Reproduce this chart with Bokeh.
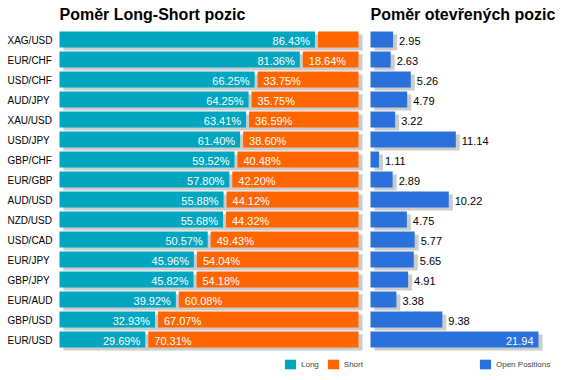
from bokeh.plotting import figure
from bokeh.models import ColumnDataSource, FactorRange, Range1d, Legend, LegendItem, Label
from bokeh.transform import dodge
from bokeh.core.properties import value
from bokeh.embed import file_html
from bokeh.resources import INLINE

# ---------------- data ----------------
pairs = ["XAG/USD", "EUR/CHF", "USD/CHF", "AUD/JPY", "XAU/USD", "USD/JPY", "GBP/CHF", "EUR/GBP",
         "AUD/USD", "NZD/USD", "USD/CAD", "EUR/JPY", "GBP/JPY", "EUR/AUD", "GBP/USD", "EUR/USD"]
long_pct = [86.43, 81.36, 66.25, 64.25, 63.41, 61.40, 59.52, 57.80,
            55.88, 55.68, 50.57, 45.96, 45.82, 39.92, 32.93, 29.69]
short_pct = [13.57, 18.64, 33.75, 35.75, 36.59, 38.60, 40.48, 42.20,
             44.12, 44.32, 49.43, 54.04, 54.18, 60.08, 67.07, 70.31]
open_positions = [2.95, 2.63, 5.26, 4.79, 3.22, 11.14, 1.11, 2.89,
                  10.22, 4.75, 5.77, 5.65, 4.91, 3.38, 9.38, 21.94]

title_left = "Poměr Long-Short pozic"
title_right = "Poměr otevřených pozic"
legend_labels = ["Long", "Short", "Open Positions"]

# ---------------- layout / style ----------------
W, H = 567, 378
L0, LW = 59, 299        # left chart: zero position and 100% length (px)
R0, RW = 370, 168       # right chart: zero position and max length (px)
SHX, SHY = 4, 3         # shadow offset (px)
GAP = 3                 # gap between long and short (px)
ROW = 20                # row pitch (px)
FONT_NAME = "Liberation Sans"
FONT = value(FONT_NAME)
C_LONG, C_SHORT, C_OPEN, C_SHADOW = "#00A6BF", "#FF6600", "#2A71DB", "#CCCCCC"

n = len(pairs)
lpx = LW / 100.0
rpx = RW / max(open_positions)

p = figure(width=W, height=H, output_backend="svg", toolbar_location=None,
           x_range=Range1d(-L0 / lpx, -L0 / lpx + W / lpx),
           y_range=FactorRange(factors=list(reversed(pairs)),
                               range_padding=(H / ROW - n) / 2, range_padding_units="absolute"),
           x_axis_location=None, y_axis_location=None,
           min_border=0, outline_line_color=None)
p.extra_x_ranges = {"pos": Range1d(-R0 / rpx, -R0 / rpx + W / rpx)}
p.xgrid.visible = False
p.ygrid.visible = False

total = [l + s for l, s in zip(long_pct, short_pct)]
src = ColumnDataSource(dict(
    pair=pairs,
    long=long_pct,
    long_r=[l - GAP / lpx for l in long_pct],
    total=total,
    sh_l=[SHX / lpx] * n,
    sh_r=[t + SHX / lpx for t in total],
    long_txt=["%.2f%%" % v for v in long_pct],
    short_txt=[("%.2f%%" % v) if v >= 15 else "" for v in short_pct],
    open=open_positions,
    osh_l=[SHX / rpx] * n,
    osh_r=[v + SHX / rpx for v in open_positions],
    out_txt=[("%.2f" % v) if v < 0.8 * max(open_positions) else "" for v in open_positions],
    in_txt=[("%.2f" % v) if v >= 0.8 * max(open_positions) else "" for v in open_positions],
))

ysh = dodge("pair", -SHY / ROW, range=p.y_range)

# left chart
p.hbar(y=ysh, left="sh_l", right="sh_r", height=0.8, source=src,
       fill_color=C_SHADOW, line_color=None)
r_long = p.hbar(y="pair", left=0, right="long_r", height=0.8, source=src,
                fill_color=C_LONG, line_color=None)
r_short = p.hbar(y="pair", left="long", right="total", height=0.8, source=src,
                 fill_color=C_SHORT, line_color=None)

# right chart
p.hbar(y=ysh, left="osh_l", right="osh_r", height=0.8, source=src,
       fill_color=C_SHADOW, line_color=None, x_range_name="pos")
r_open = p.hbar(y="pair", left=0, right="open", height=0.8, source=src,
                fill_color=C_OPEN, line_color=None, x_range_name="pos")

# labels
p.text(x=0, y="pair", text="pair", source=src, x_offset=-(L0 - 7), y_offset=1,
       text_align="left", text_baseline="middle", text_font=FONT,
       text_font_size="10px", text_color="#000000")
p.text(x="long", y="pair", text="long_txt", source=src, x_offset=-8, y_offset=1,
       text_align="right", text_baseline="middle", text_font=FONT,
       text_font_size="11px", text_color="#FFFFFF")
p.text(x="long", y="pair", text="short_txt", source=src, x_offset=6, y_offset=1,
       text_align="left", text_baseline="middle", text_font=FONT,
       text_font_size="11px", text_color="#FFFFFF")
p.text(x="open", y="pair", text="out_txt", source=src, x_offset=6, y_offset=1,
       text_align="left", text_baseline="middle", text_font=FONT,
       text_font_size="11px", text_color="#000000", x_range_name="pos")
p.text(x="open", y="pair", text="in_txt", source=src, x_offset=-5, y_offset=1,
       text_align="right", text_baseline="middle", text_font=FONT,
       text_font_size="11px", text_color="#FFFFFF", x_range_name="pos")

# titles
for txt, rng in [(title_left, "default"), (title_right, "pos")]:
    p.add_layout(Label(x=0, y=H - 14, y_units="screen", x_range_name=rng,
                       text=txt, text_font=FONT_NAME, text_font_size="16px",
                       text_font_style="bold", text_color="#000000",
                       text_baseline="alphabetic"))

# legends
def mk_legend(items, loc):
    return Legend(items=items, location=loc, orientation="horizontal",
                  glyph_width=14, glyph_height=12, label_height=12, label_width=0,
                  label_standoff=4, spacing=7, padding=0, margin=0,
                  border_line_alpha=0, background_fill_alpha=0,
                  label_text_font=FONT_NAME, label_text_font_size="8px",
                  label_text_color="#444444")

p.add_layout(mk_legend([LegendItem(label=legend_labels[0], renderers=[r_long]),
                        LegendItem(label=legend_labels[1], renderers=[r_short])], (283, 8)))
p.add_layout(mk_legend([LegendItem(label=legend_labels[2], renderers=[r_open])], (478, 8)))

open("out.html", "w").write(file_html(p, INLINE))
